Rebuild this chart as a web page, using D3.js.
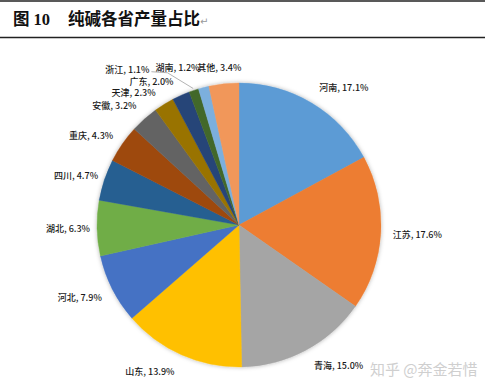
<!DOCTYPE html>
<html>
<head>
<meta charset="utf-8">
<script src="https://cdn.jsdelivr.net/npm/d3@7"></script>
<style>
  html, body { margin: 0; padding: 0; background: #fff; }
  svg { display: block; }
</style>
</head>
<body>
<svg id="chart"></svg>
<script>
const PROVINCES = ['河南', '江苏', '青海', '山东', '河北', '湖北', '四川', '重庆', '安徽', '天津', '广东', '浙江', '湖南', '其他'];
const SHARES = [17.1, 17.6, 15.0, 13.9, 7.9, 6.3, 4.7, 4.3, 3.2, 2.3, 2.0, 1.1, 1.2, 3.4];
const COLORS = ['#5B9BD5', '#ED7D31', '#A5A5A5', '#FFC000', '#4472C4', '#70AD47', '#255E91',
                '#9E480E', '#636363', '#997300', '#264478', '#43682B', '#7CAFDD', '#F1975A'];

const WIDTH = 485;
const HEIGHT = 392;
const CX = 239, CY = 225, R = 142;

// excel moved some labels around, nudge them the same way
const LABEL_NUDGE = {
  '河南': [14, -1], '江苏': [1, 1], '青海': [16, 1], '山东': [-17, 2], '河北': [-3, 1],
  '湖北': [4, 0], '四川': [3, 1], '重庆': [-4, 1], '安徽': [-8, -1.5], '天津': [-13, 2.5],
  '广东': [-16, 1.5], '浙江': [-56, -5], '湖南': [-18, -3.5], '其他': [-1, 0]
};

const data = PROVINCES.map((p, i) => ({ name: p, value: SHARES[i], color: COLORS[i] }));

const svg = d3.select('#chart')
  .attr('width', WIDTH)
  .attr('height', HEIGHT);

// title block with rules above and below
svg.append('line').attr('x1', 0).attr('x2', WIDTH).attr('y1', 1).attr('y2', 1)
  .attr('stroke', '#222').attr('stroke-width', 1.3);
svg.append('line').attr('x1', 0).attr('x2', WIDTH).attr('y1', 37.5).attr('y2', 37.5)
  .attr('stroke', '#222').attr('stroke-width', 1.3);

const title = svg.append('text')
  .attr('x', 13).attr('y', 25)
  .attr('font-size', 16.5)
  .attr('font-weight', 'bold')
  .attr('fill', '#111');
title.append('tspan').attr('font-family', '"Noto Sans CJK SC", sans-serif').text('图');
title.append('tspan').attr('font-family', '"Liberation Serif", serif').attr('dx', 4).text('10');
title.append('tspan').attr('font-family', '"Noto Sans CJK SC", sans-serif').attr('dx', 18).text('纯碱各省产量占比');
title.append('tspan').attr('font-family', '"DejaVu Sans", sans-serif').attr('font-weight', 'normal')
  .attr('font-size', 10).attr('fill', '#999').text('↵');

// soft shadow round the pie
const defs = svg.append('defs');
const filt = defs.append('filter').attr('id', 'glow')
  .attr('x', '-10%').attr('y', '-10%').attr('width', '120%').attr('height', '120%');
filt.append('feDropShadow').attr('dx', 0).attr('dy', 0).attr('stdDeviation', 2.2)
  .attr('flood-color', '#000').attr('flood-opacity', 0.3);

const pie = d3.pie().sort(null).value(d => d.value);
const arc = d3.arc().innerRadius(0).outerRadius(R);
const arcs = pie(data);

const g = svg.append('g').attr('transform', `translate(${CX},${CY})`);

g.append('g').attr('filter', 'url(#glow)')
  .selectAll('path')
  .data(arcs)
  .enter()
  .append('path')
  .attr('d', arc)
  .attr('fill', d => d.data.color)
  .attr('stroke', d => d.data.color)
  .attr('stroke-width', 0.4);

// labels: outside end, box pushed away from the edge
const labels = g.selectAll('.label')
  .data(arcs)
  .enter()
  .append('text')
  .classed('label', true)
  .attr('font-family', '"Noto Sans CJK SC", sans-serif')
  .attr('font-size', 9)
  .attr('font-weight', 500)
  .attr('fill', '#1a1a1a')
  .attr('text-anchor', 'middle')
  .attr('dominant-baseline', 'central')
  .text(d => `${d.data.name}, ${d.data.value.toFixed(1)}%`);

labels.each(function (d) {
  const a = (d.startAngle + d.endAngle) / 2;
  const w = this.getComputedTextLength();
  const h = 11;
  const rr = R + 11;
  const nudge = LABEL_NUDGE[d.data.name] || [0, 0];
  const x = rr * Math.sin(a) + (w / 2) * Math.sin(a) + nudge[0];
  const y = -rr * Math.cos(a) - (h / 2) * Math.cos(a) + nudge[1];
  d.lx = x; d.ly = y; d.lw = w;
  d3.select(this).attr('x', x).attr('y', y);
});

// leader line for the label that was pushed away
arcs.filter(d => d.data.name === '浙江').forEach(d => {
  const a = (d.startAngle + d.endAngle) / 2;
  const ex = (R + 2) * Math.sin(a), ey = -(R + 2) * Math.cos(a);
  const sx = d.lx + d.lw / 2 + 2, sy = d.ly + 2;
  g.append('polyline')
    .attr('points', `${sx},${sy} ${sx + 16},${sy + 1} ${ex},${ey}`)
    .attr('fill', 'none')
    .attr('stroke', '#a0a0a0')
    .attr('stroke-width', 0.8);
});

// watermark
svg.append('text')
  .attr('x', 370).attr('y', 375)
  .attr('font-family', '"Noto Sans CJK SC", sans-serif')
  .attr('font-size', 15)
  .attr('fill', '#cfcfcf')
  .text('知乎 @奔金若惜');
</script>
</body>
</html>
